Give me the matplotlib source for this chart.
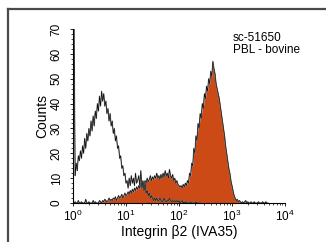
import numpy as np
import matplotlib
matplotlib.use("Agg")
from matplotlib import pyplot as plt
from matplotlib.lines import Line2D
from matplotlib.ticker import MultipleLocator, LogLocator

plt.rcParams['font.family'] = ['Liberation Sans Narrow', 'Liberation Sans', 'DejaVu Sans']
plt.rcParams['mathtext.fontset'] = 'custom'
plt.rcParams['mathtext.rm'] = 'Liberation Sans Narrow'
plt.rcParams['mathtext.it'] = 'Liberation Sans Narrow:italic'
plt.rcParams['mathtext.bf'] = 'Liberation Sans Narrow:bold'

# channel width in log10 units (flow cytometry histogram, 4 decades)
step = 0.02

# control (open histogram), channels from 10^0 upward
control_counts = [
  0, 70, 11, 16, 13, 19, 17, 21, 18, 23, 20,
  26, 22, 28, 25, 30, 27, 33, 29, 35, 31,
  37, 34, 40, 37, 43, 39, 45, 41, 44, 39,
  41, 36, 38, 33, 36, 31, 33, 28, 30, 25,
  27, 22, 23, 18, 19, 14, 15, 11, 12, 8,
  9, 6, 10, 7, 11, 8, 10, 7, 12, 8,
  9, 11, 7, 13, 6, 9, 5, 8, 4, 5,
  3, 4, 2, 3, 2, 1, 2, 1, 2, 1,
  1, 2, 1, 0.5, 1, 2, 1, 0.5, 1, 1,
  2, 1, 0.5, 1, 0.5, 1, 0.5, 1, 0.5, 1,
  0, 0.5, 1, 0, 0.5, 0, 0.5, 0, 0, 0,
  0.5, 0, 0, 0, 0, 0.5, 0, 0, 0, 0,
]

# Integrin beta2 stained sample (filled histogram)
sample_counts = [
  1, 0, 0.5, 0, 0, 1, 0, 0, 0.5, 0,
  0, 0, 1.5, 0, 0, 0.5, 0, 0, 0, 1,
  0, 0.5, 0, 0, 0, 1, 0.5, 0, 1, 0.5,
  1.5, 1, 0.5, 1, 2, 1, 1.5, 1, 2, 1.5,
  2.5, 1, 2, 3, 2, 2.5, 3.5, 2, 3, 4,
  3, 3.5, 4.5, 3.5, 5, 4, 5.5, 4.5, 6, 5,
  6.5, 5.5, 7, 6, 8, 7, 8.5, 7.5, 9, 8,
  10, 8.5, 9.5, 11, 9, 10.5, 9.5, 11, 10, 12,
  10, 11, 9.5, 11.5, 10, 12, 10.5, 13, 11, 12,
  10, 13.5, 11, 10, 11.5, 9, 10, 8, 9, 7.5,
  7, 6.5, 7, 6, 7.5, 6.5, 8, 7, 9, 8,
  12, 11, 16, 15, 22, 20, 27, 25, 32, 30,
  36, 34, 40, 38, 44, 42, 47, 45, 50, 48,
  53, 51, 57, 54, 52, 48, 46, 44, 42, 39,
  36, 33, 30, 27, 23, 20, 17, 14, 12, 9,
  7, 5, 3, 2, 1, 1.5, 0.5, 1, 0.5, 0,
  0.5, 0, 0.5, 1, 0, 0.5, 0, 0, 0.5, 0,
  0, 0.5, 0, 0, 0, 0.5, 0, 0, 0, 0.5,
  0, 0, 0.5, 0, 0,
]

xticks = [1, 10, 100, 1000, 10000]
label_text = "sc-51650\nPBL - bovine"

ctrl_x = 10 ** (np.arange(len(control_counts)) * step)
samp_x = 10 ** (np.arange(len(sample_counts)) * step)

fig = plt.figure(figsize=(3.26, 2.42), dpi=100)
ax = fig.add_axes([0.224, 0.161, 0.650, 0.719])

ax.fill_between(samp_x, sample_counts, color='#cc4a16', lw=0)
ax.plot(samp_x, sample_counts, color='#888888', lw=0.9)
ax.plot(samp_x, sample_counts, color='black', lw=0.4)
ax.plot(ctrl_x, control_counts, color='#888888', lw=0.9)
ax.plot(ctrl_x, control_counts, color='black', lw=0.4)

ax.set_xscale('log')
ax.set_xlim(1, 10000)
ax.set_ylim(0, 70)
ax.set_xticks(xticks)
ax.xaxis.set_minor_locator(LogLocator(base=10, subs=np.arange(2, 10)))
ax.yaxis.set_major_locator(MultipleLocator(10))
ax.yaxis.set_minor_locator(MultipleLocator(2))
ax.tick_params(axis='both', which='major', length=2.5, width=0.6, labelsize=8.5)
ax.tick_params(axis='both', which='minor', length=1.2, width=0.5)
ax.tick_params(axis='y', pad=5)
ax.tick_params(axis='x', pad=2)
for lab in ax.get_yticklabels():
  lab.set_rotation(90)
  lab.set_va('center')

for s in ['top', 'right']:
  ax.spines[s].set_visible(False)
ax.spines['left'].set_linewidth(0.8)
ax.spines['bottom'].set_linewidth(0.8)

ax.set_xlabel("Integrin β2 (IVA35)", fontsize=10, va='center')
ax.xaxis.set_label_coords(0.5, -0.168)
ax.set_ylabel("Counts", fontsize=10, va='center')
ax.yaxis.set_label_coords(-0.143, 0.5)
ax.text(0.755, 0.985, label_text, transform=ax.transAxes, fontsize=8.5,
        va='top', ha='left', linespacing=1.0)

# grey frame round the image (top and left edges only are visible)
fig.add_artist(Line2D([0.0245, 1.0], [0.961, 0.961], transform=fig.transFigure,
                      color='#4a4a4a', lw=1.6))
fig.add_artist(Line2D([0.0245, 0.0245], [0.0, 0.961], transform=fig.transFigure,
                      color='#4a4a4a', lw=1.6))

fig.savefig("out.png", dpi=100)
